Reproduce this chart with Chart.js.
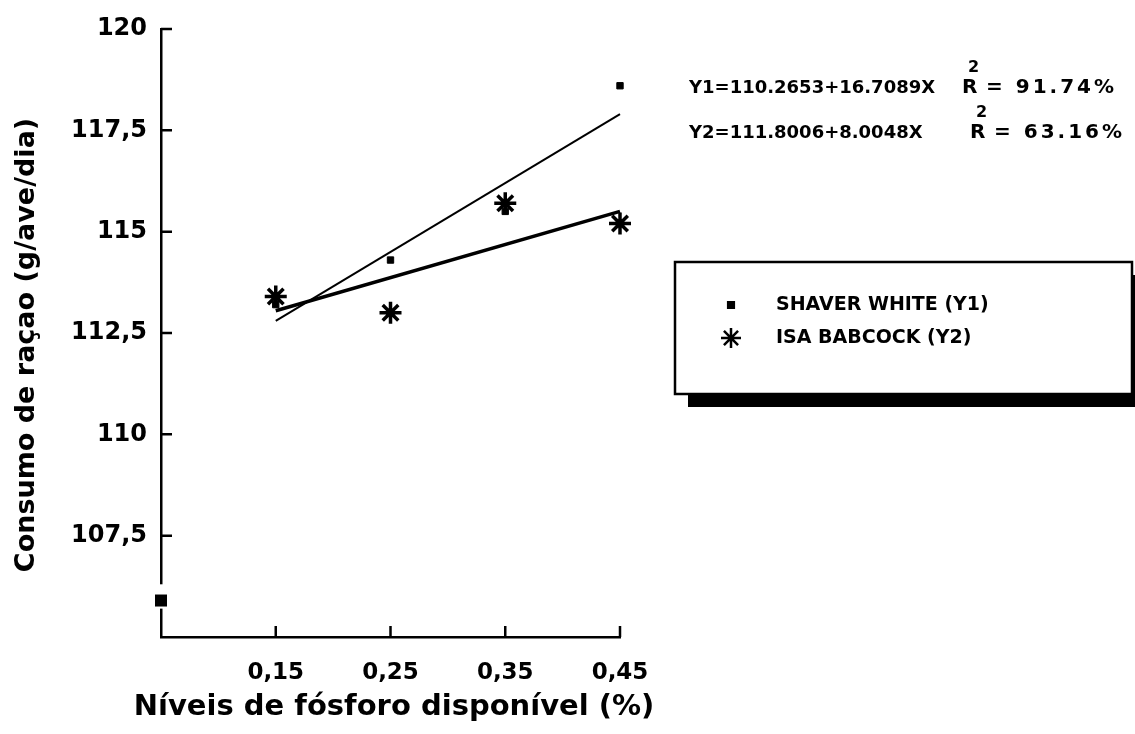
<!DOCTYPE html>
<html>
<head>
<meta charset="utf-8">
<title>Consumo de raçao</title>
<script src="https://cdn.jsdelivr.net/npm/chart.js@4.4.1/dist/chart.umd.min.js"></script>
<style>
    html, body { margin: 0; padding: 0; background: #fff; }
</style>
</head>
<body>
<canvas id="chart" width="1135" height="734"></canvas>
<script>
// níveis de fósforo e médias
const niveis = [0.15, 0.25, 0.35, 0.45];
const shaverWhite = [113.2, 114.3, 115.5, 118.6];
const isaBabcock = [113.4, 113.0, 115.7, 115.2];

// retas de regressão (extremos)
const retaX = [0.15, 0.45];
const retaY1 = [112.8, 117.9];
const retaY2 = [113.05, 115.5];

const xTicks = [0.15, 0.25, 0.35, 0.45];
const yTicks = [107.5, 110, 112.5, 115, 117.5, 120];

const equacoes = ['Y1=110.2653+16.7089X', 'Y2=111.8006+8.0048X'];
const r2Textos = ['= 91.74%', '= 63.16%'];
const nomes = ['SHAVER WHITE (Y1)', 'ISA BABCOCK (Y2)'];
const tituloX = 'Níveis de fósforo disponível (%)';
const tituloY = 'Consumo de raçao (g/ave/dia)';

// quebra do eixo y (valores da escala)
const quebra = { de: 105.7, ate: 106.3, marca: 105.9 };

const FONTE = '"DejaVu Sans", sans-serif';
const toPts = (xs, ys) => xs.map((x, i) => ({ x: x, y: ys[i] }));
const virgula = v => String(v).replace('.', ',');

// ticks, quebra, títulos, textos e legenda desenhados à mão
const decor = {
    id: 'decor',
    afterDraw(chart) {
        const { ctx, chartArea: a, scales: { x, y } } = chart;
        ctx.save();

        // ticks para dentro
        ctx.strokeStyle = '#000';
        ctx.lineWidth = 2.5;
        ctx.beginPath();
        xTicks.forEach(v => {
            const px = x.getPixelForValue(v);
            ctx.moveTo(px, a.bottom);
            ctx.lineTo(px, a.bottom - 11);
        });
        yTicks.forEach(v => {
            const py = y.getPixelForValue(v);
            ctx.moveTo(a.left, py);
            ctx.lineTo(a.left + 11, py);
        });
        ctx.stroke();

        // quebra do eixo
        const b1 = y.getPixelForValue(quebra.de);
        const b2 = y.getPixelForValue(quebra.ate);
        ctx.fillStyle = '#fff';
        ctx.fillRect(a.left - 4, b2, 8, b1 - b2);
        const m = y.getPixelForValue(quebra.marca);
        ctx.fillStyle = '#000';
        ctx.fillRect(a.left - 6, m - 6, 12, 12);

        // títulos dos eixos
        ctx.textAlign = 'center';
        ctx.textBaseline = 'middle';
        ctx.font = `bold 29px ${FONTE}`;
        ctx.fillText(tituloX, 394, 707);

        ctx.save();
        ctx.translate(27, 345);
        ctx.rotate(-Math.PI / 2);
        ctx.font = `bold 27px ${FONTE}`;
        ctx.fillText(tituloY, 0, 0);
        ctx.restore();

        // equações
        ctx.textAlign = 'left';
        const linhas = [88, 133];
        equacoes.forEach((eq, i) => {
            const ly = linhas[i];
            ctx.font = `bold 18px ${FONTE}`;
            ctx.fillText(eq, 689, ly);
            const rx = i === 0 ? 962 : 970;
            ctx.font = `bold 20px ${FONTE}`;
            ctx.fillText('R', rx, ly);
            ctx.font = `bold 16px ${FONTE}`;
            ctx.fillText('2', rx + 6, ly - 20);
            ctx.font = `bold 20px ${FONTE}`;
            ctx.letterSpacing = '3px';
            ctx.fillText(r2Textos[i], rx + 24, ly);
            ctx.letterSpacing = '0px';
        });

        // legenda com sombra
        ctx.fillStyle = '#000';
        ctx.fillRect(688, 275, 460, 132);
        ctx.fillStyle = '#fff';
        ctx.fillRect(675, 262, 457, 132);
        ctx.lineWidth = 2.5;
        ctx.strokeRect(675, 262, 457, 132);

        const itens = [305, 338];
        chart.data.datasets.slice(0, 2).forEach((ds, i) => {
            ctx.fillStyle = '#000';
            ctx.strokeStyle = '#000';
            Chart.helpers.drawPoint(ctx, {
                pointStyle: ds.pointStyle,
                radius: i === 0 ? 4 : 10,
                borderWidth: i === 0 ? 1 : 3.5,
                rotation: 0
            }, 731, itens[i]);
            ctx.fillStyle = '#000';
            ctx.font = `bold 19px ${FONTE}`;
            ctx.fillText(ds.label, 776, itens[i]);
        });

        ctx.restore();
    }
};

new Chart(document.getElementById('chart'), {
    type: 'scatter',
    data: {
        datasets: [
            {
                label: nomes[0],
                data: toPts(niveis, shaverWhite),
                pointStyle: 'rect',
                pointRadius: 4.5,
                backgroundColor: '#000',
                borderColor: '#000',
                borderWidth: 1,
                clip: false
            },
            {
                label: nomes[1],
                data: toPts(niveis, isaBabcock),
                pointStyle: 'star',
                pointRadius: 11,
                borderColor: '#000',
                backgroundColor: '#000',
                borderWidth: 3.5,
                clip: false
            },
            {
                type: 'line',
                data: toPts(retaX, retaY1),
                borderColor: '#000',
                borderWidth: 2,
                pointRadius: 0,
                clip: false
            },
            {
                type: 'line',
                data: toPts(retaX, retaY2),
                borderColor: '#000',
                borderWidth: 3.5,
                pointRadius: 0,
                clip: false
            }
        ]
    },
    options: {
        responsive: false,
        animation: false,
        layout: { padding: { top: 29, right: 515, left: 0, bottom: 0 } },
        plugins: {
            legend: { display: false },
            tooltip: { enabled: false }
        },
        scales: {
            x: {
                type: 'linear',
                min: 0.05,
                max: 0.45,
                afterBuildTicks: s => { s.ticks = xTicks.map(v => ({ value: v })); },
                afterFit: s => { s.height = 97; },
                grid: { display: false, drawTicks: false },
                border: { display: true, color: '#000', width: 2.5 },
                ticks: {
                    color: '#000',
                    padding: 22,
                    maxRotation: 0,
                    autoSkip: false,
                    font: { family: FONTE, size: 23, weight: 'bold' },
                    callback: v => virgula(v)
                }
            },
            y: {
                min: 105,
                max: 120,
                afterBuildTicks: s => { s.ticks = yTicks.map(v => ({ value: v })); },
                afterFit: s => { s.width = 161; },
                grid: { display: false, drawTicks: false },
                border: { display: true, color: '#000', width: 2.5 },
                ticks: {
                    color: '#000',
                    padding: 14,
                    font: { family: FONTE, size: 24, weight: 'bold' },
                    callback: v => virgula(v)
                }
            }
        }
    },
    plugins: [decor]
});
</script>
</body>
</html>
